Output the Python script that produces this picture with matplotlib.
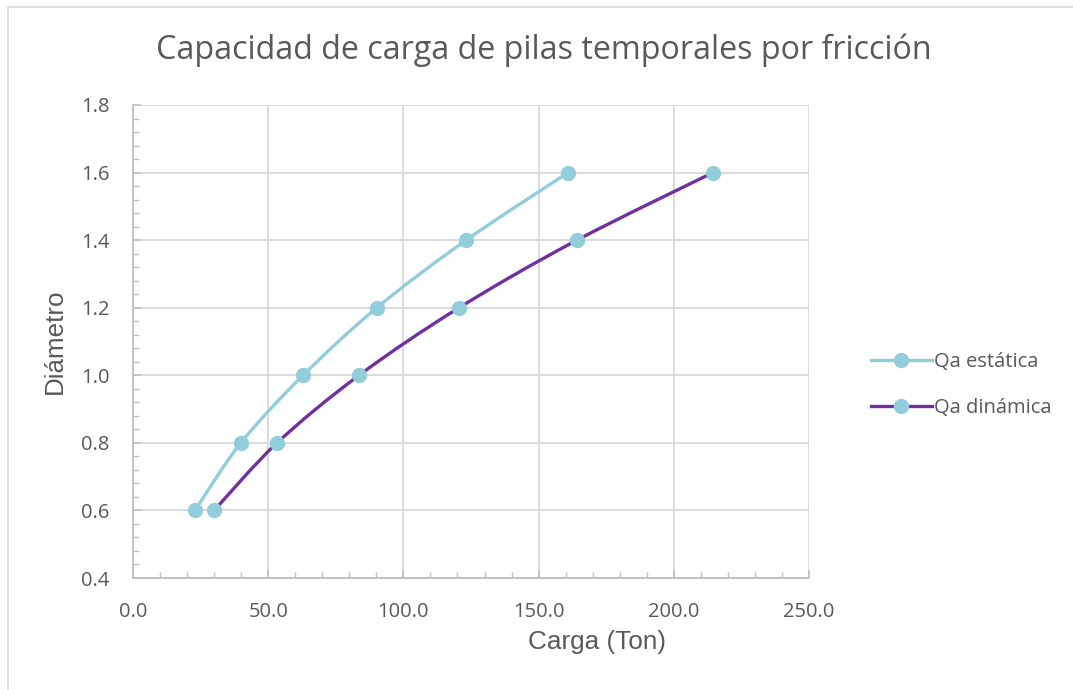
import numpy as np
import matplotlib.pyplot as plt
from matplotlib.path import Path
from matplotlib.patches import PathPatch, Rectangle
from matplotlib.lines import Line2D
from matplotlib.ticker import MultipleLocator, FormatStrFormatter

# data
diametro = [0.6, 0.8, 1.0, 1.2, 1.4, 1.6]
qa_estatica = [22.9, 39.9, 62.9, 90.2, 123.2, 160.9]
qa_dinamica = [30.0, 53.3, 83.6, 120.6, 164.2, 214.5]
series_names = ['Qa estática', 'Qa dinámica']

XMAX, YMIN, YMAX = 250.0, 0.4, 1.8


def smoothPath(xs, ys, sx, sy, tension=1.0/6):
    '''
    Catmull-Rom style bezier through the points (like a smoothed Excel line).
    Control points are computed in scaled units so the curve follows the screen.
    '''
    p = np.column_stack([np.asarray(xs) / sx, np.asarray(ys) / sy])
    verts = [p[0]]
    codes = [Path.MOVETO]
    n = len(p)
    for i in range(n - 1):
        p0 = p[i - 1] if i > 0 else p[i]
        p3 = p[i + 2] if i + 2 < n else p[i + 1]
        c1 = p[i] + (p[i + 1] - p0) * tension
        c2 = p[i + 1] - (p3 - p[i]) * tension
        verts += [c1, c2, p[i + 1]]
        codes += [Path.CURVE4] * 3
    verts = np.array(verts) * [sx, sy]
    return Path(verts, codes)


plt.rcParams['font.family'] = ['Open Sans', 'DejaVu Sans']
textcol = '#595959'
gridcol = '#d9d9d9'
axcol = '#bfbfbf'
colors = ['#92cddc', '#7030a0']
marker_col = '#92cddc'
arial = ['Liberation Sans', 'DejaVu Sans']

fig = plt.figure(figsize=(10.73, 6.9), dpi=100)
fig.patches.append(Rectangle((8 / 1073, -0.05), 1.1, 1.05 - 7 / 690, transform=fig.transFigure,
                             fill=False, edgecolor='#d9d9d9', linewidth=1.2))

axs = fig.add_axes([133 / 1073, 112 / 690, 676 / 1073, 473 / 690])
axs.set_xlim(0, XMAX)
axs.set_ylim(YMIN, YMAX)

for xs, col in zip([qa_estatica, qa_dinamica], colors):
    path = smoothPath(xs, diametro, XMAX, YMAX - YMIN)
    axs.add_patch(PathPatch(path, facecolor='none', edgecolor=col, linewidth=2.4,
                            zorder=3, capstyle='round'))
    axs.plot(xs, diametro, linestyle='None', marker='o', markersize=10,
             color=marker_col, zorder=4)

axs.xaxis.set_major_locator(MultipleLocator(50))
axs.xaxis.set_minor_locator(MultipleLocator(10))
axs.yaxis.set_major_locator(MultipleLocator(0.2))
axs.yaxis.set_minor_locator(MultipleLocator(0.04))
axs.xaxis.set_major_formatter(FormatStrFormatter('%.1f'))
axs.yaxis.set_major_formatter(FormatStrFormatter('%.1f'))
axs.grid(True, which='major', color=gridcol, linewidth=1.3)
axs.set_axisbelow(True)

for s in ['top', 'right']:
    axs.spines[s].set_visible(False)
for s in ['left', 'bottom']:
    axs.spines[s].set_color(axcol)
    axs.spines[s].set_linewidth(1.3)

axs.tick_params(which='both', direction='in', colors=axcol, labelcolor=textcol,
                labelsize=14.5)
axs.tick_params(which='major', length=6, width=1.2)
axs.tick_params(which='minor', length=4, width=1.0)
axs.tick_params(axis='x', pad=17)
axs.tick_params(axis='y', pad=17)

# axis titles (Excel places the x title off-centre)
fig.text(597 / 1073, 1 - 642 / 690, 'Carga (Ton)', ha='center', va='center',
         fontsize=18.8, color=textcol, family=arial)
fig.text(55 / 1073, 1 - 341 / 690, 'Diámetro', ha='center', va='center', rotation=90,
         fontsize=18.7, color=textcol, family=arial)
fig.text(544 / 1073, 1 - 50 / 690, 'Capacidad de carga de pilas temporales por fricción',
         ha='center', va='center', fontsize=23.2, color=textcol)

handles = [Line2D([], [], color=c, linewidth=2.4, marker='o', markersize=10,
                  markerfacecolor=marker_col, markeredgecolor=marker_col) for c in colors]
fig.legend(handles, series_names, loc='center left', bbox_to_anchor=(853 / 1073, 1 - 385 / 690),
           frameon=False, fontsize=14.5, labelcolor=textcol, handlelength=3.0,
           handletextpad=0.1, labelspacing=1.3)

plt.savefig('out.png', dpi=100)
